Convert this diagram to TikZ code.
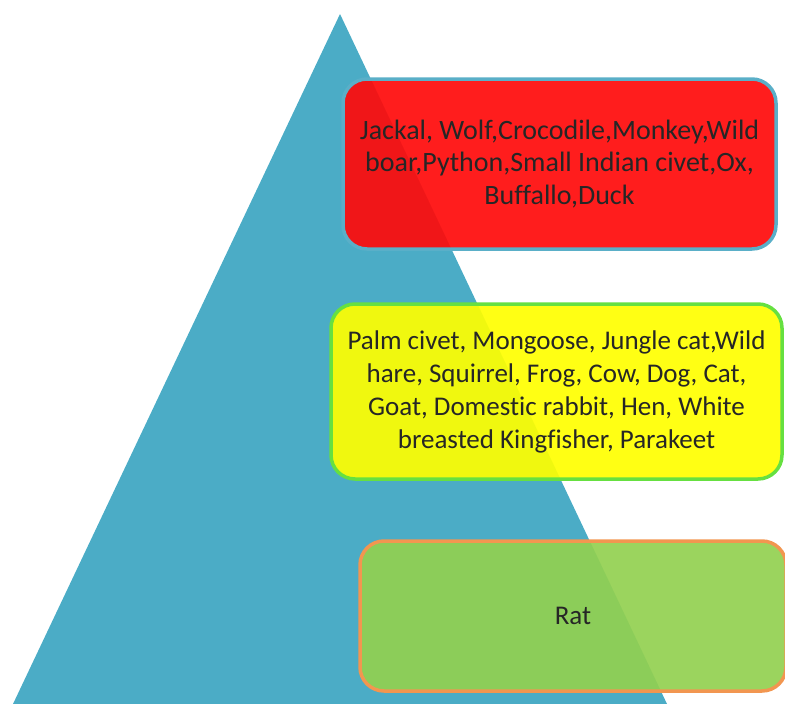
\documentclass[tikz,border=0pt]{standalone}
\usepackage{fontspec}
\setmainfont[Ligatures=NoCommon]{Carlito}
\definecolor{tri}{RGB}{75,172,198}
\definecolor{redfill}{RGB}{255,10,10}
\definecolor{yelfill}{RGB}{255,255,0}
\definecolor{yelline}{RGB}{102,224,64}
\definecolor{grnfill}{RGB}{146,208,80}
\definecolor{orgline}{RGB}{242,150,80}
\definecolor{blueline}{RGB}{90,175,200}
\tikzset{
  tbox/.style={rounded corners=24pt, line width=3.5pt, fill opacity=0.92, text opacity=1,
    align=center, font=\fontsize{27}{33}\selectfont, text=black!85, inner sep=0pt},
}
\begin{document}
\begin{tikzpicture}[x=1pt,y=-1pt]
\useasboundingbox (0,0) rectangle (785,704);
\fill[tri] (340,14) -- (667,704) -- (13,704) -- cycle;
\node[tbox, draw=blueline, fill=redfill, minimum width=433pt, minimum height=170pt,
  font=\fontsize{28}{32.5}\selectfont] (top) at (559.5,164)
  {\raisebox{-2pt}{}Jackal, Wolf,Crocodile,Monkey,Wild\\boar,Python,Small Indian civet,Ox,\\Buffallo,Duck};
\node[tbox, draw=yelline, fill=yelfill, minimum width=451pt, minimum height=175pt] (mid) at (556.5,391.5)
  {Palm civet, Mongoose, Jungle cat,Wild\\hare, Squirrel, Frog, Cow, Dog, Cat,\\Goat, Domestic rabbit, Hen, White\\breasted Kingfisher, Parakeet};
\node[tbox, draw=orgline, fill=grnfill, minimum width=426pt, minimum height=150pt] (bot) at (573,616)
  {Rat};
\end{tikzpicture}
\end{document}
